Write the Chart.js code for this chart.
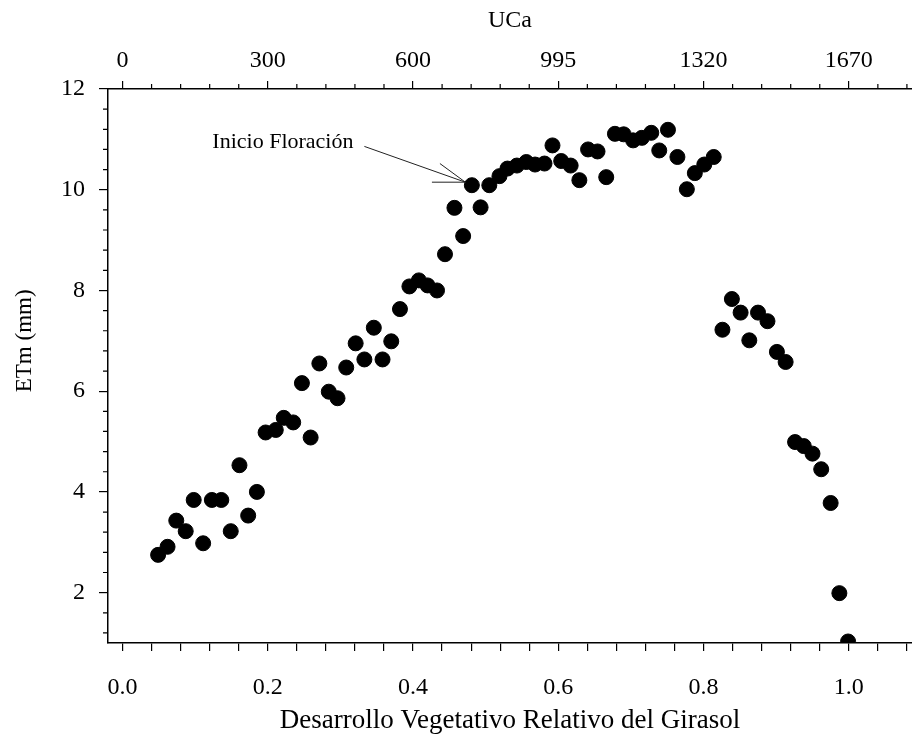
<!DOCTYPE html>
<html>
<head>
<meta charset="utf-8">
<title>ETm Girasol</title>
<script src="https://cdn.jsdelivr.net/npm/chart.js@4.4.1/dist/chart.umd.min.js"></script>
<style>
    html, body { margin: 0; padding: 0; background: #fff; }
    #wrap { width: 912px; height: 745px; }
</style>
</head>
<body>
<div id="wrap"><canvas id="chart-etm" width="912" height="745"></canvas></div>
<script>
// desarrollo vegetativo relativo (eje x)
const desarrollo = [
    0.049, 0.062, 0.074, 0.087, 0.098, 0.111, 0.123, 0.136, 0.149, 0.161,
    0.173, 0.185, 0.197, 0.211, 0.222, 0.235, 0.247, 0.259, 0.271, 0.284,
    0.296, 0.308, 0.321, 0.333, 0.346, 0.358, 0.370, 0.382, 0.395, 0.408,
    0.420, 0.433, 0.444, 0.457, 0.469, 0.481, 0.493, 0.505, 0.519, 0.530,
    0.543, 0.556, 0.568, 0.581, 0.592, 0.604, 0.617, 0.629, 0.641, 0.654,
    0.666, 0.678, 0.690, 0.703, 0.715, 0.728, 0.739, 0.751, 0.764, 0.777,
    0.788, 0.801, 0.814, 0.826, 0.839, 0.851, 0.863, 0.875, 0.888, 0.901,
    0.913, 0.926, 0.938, 0.950, 0.962, 0.975, 0.987, 0.999
];

// ETm en mm
const etm = [
    2.75, 2.91, 3.43, 3.22, 3.84, 2.98, 3.84, 3.84, 3.22, 4.53,
    3.53, 4.00, 5.18, 5.23, 5.47, 5.38, 6.16, 5.08, 6.55, 5.99,
    5.86, 6.47, 6.95, 6.63, 7.26, 6.63, 6.99, 7.63, 8.08, 8.20,
    8.10, 8.00, 8.72, 9.64, 9.08, 10.09, 9.65, 10.09, 10.27, 10.42,
    10.48, 10.55, 10.50, 10.52, 10.88, 10.57, 10.48, 10.19, 10.80, 10.76,
    10.25, 11.11, 11.10, 10.98, 11.03, 11.13, 10.78, 11.19, 10.65, 10.01,
    10.33, 10.50, 10.65, 7.22, 7.83, 7.56, 7.01, 7.56, 7.39, 6.78,
    6.58, 4.99, 4.91, 4.76, 4.45, 3.78, 1.99, 1.03
];

// etiquetas del eje superior (UCa) sobre 0.0, 0.2, ... 1.0
const ucaLabels = ['0', '300', '600', '995', '1320', '1670'];
const yLabels = [2, 4, 6, 8, 10, 12];

// flecha "Inicio Floración" (en unidades de los ejes)
const nota = {
    texto: 'Inicio Floración',
    textoX: 0.318, textoY: 10.94,
    desde: [0.333, 10.86],
    hasta: [0.472, 10.15],
    punta1: [0.437, 10.52],
    punta2: [0.426, 10.15]
};

const fuente = 'Liberation Serif, Times New Roman, serif';

function cerca(a, b) { return Math.abs(a - b) < 1e-6; }

// marcas cortas (sin etiqueta) del eje izquierdo y del superior
function marcasCortas(chart, scale, largo) {
    const ctx = chart.ctx;
    ctx.save();
    ctx.strokeStyle = '#000';
    ctx.lineWidth = 1.2;
    ctx.beginPath();
    scale.ticks.forEach(t => {
        if (t.label !== '') return;
        const p = scale.getPixelForValue(t.value);
        if (scale.axis === 'y') {
            ctx.moveTo(scale.right - largo, p);
            ctx.lineTo(scale.right, p);
        } else {
            ctx.moveTo(p, scale.bottom - largo);
            ctx.lineTo(p, scale.bottom);
        }
    });
    ctx.stroke();
    ctx.restore();
}

const anotacion = {
    id: 'anotacion',
    afterDatasetsDraw(chart) {
        const ctx = chart.ctx;
        const x = chart.scales.x;
        const y = chart.scales.y;
        const px = v => x.getPixelForValue(v);
        const py = v => y.getPixelForValue(v);

        marcasCortas(chart, chart.scales.y, 5);
        marcasCortas(chart, chart.scales.x2, 5);

        ctx.save();
        ctx.fillStyle = '#000';
        ctx.font = '22px ' + fuente;
        ctx.textAlign = 'right';
        ctx.textBaseline = 'middle';
        ctx.fillText(nota.texto, px(nota.textoX), py(nota.textoY));
        ctx.strokeStyle = '#222';
        ctx.lineWidth = 1;
        ctx.beginPath();
        ctx.moveTo(px(nota.desde[0]), py(nota.desde[1]));
        ctx.lineTo(px(nota.hasta[0]), py(nota.hasta[1]));
        ctx.moveTo(px(nota.punta1[0]), py(nota.punta1[1]));
        ctx.lineTo(px(nota.hasta[0]), py(nota.hasta[1]));
        ctx.moveTo(px(nota.punta2[0]), py(nota.punta2[1]));
        ctx.lineTo(px(nota.hasta[0]), py(nota.hasta[1]));
        ctx.stroke();

        // titulo del eje y
        ctx.translate(25, py(7.0));
        ctx.rotate(-Math.PI / 2);
        ctx.textAlign = 'center';
        ctx.font = '23px ' + fuente;
        ctx.fillText('ETm (mm)', 0, 0);
        ctx.restore();
    }
};

// marcas cada 0.04 en x y cada 0.4 en y
function marcasX(scale) {
    const t = [];
    for (let i = 0; i <= 27; i++) t.push({ value: Math.round(i * 4) / 100 });
    scale.ticks = t;
}
function marcasY(scale) {
    const t = [];
    for (let i = 0; i <= 27; i++) t.push({ value: Math.round((12 - i * 0.4) * 10) / 10 });
    scale.ticks = t;
}

const colorMarca = c => (c.tick && c.tick.label === '') ? 'rgba(0,0,0,0)' : '#000';

const ctx = document.getElementById('chart-etm').getContext('2d');
const chart = new Chart(ctx, {
    type: 'scatter',
    data: {
        datasets: [{
            label: 'ETm',
            data: desarrollo.map((d, i) => ({ x: d, y: etm[i] })),
            backgroundColor: '#000',
            borderColor: '#000',
            pointRadius: 7.5,
            pointHoverRadius: 7.5
        }]
    },
    options: {
        responsive: false,
        animation: false,
        layout: { padding: 0, autoPadding: false },
        plugins: {
            legend: { display: false },
            tooltip: { enabled: false }
        },
        scales: {
            x: {
                type: 'linear',
                position: 'bottom',
                min: -0.02,
                max: 1.087,
                afterBuildTicks: marcasX,
                afterFit: s => { s.height = 102; s.paddingLeft = 0; s.paddingRight = 0; },
                grid: { drawOnChartArea: false, tickLength: 8, color: '#000', lineWidth: 1.2 },
                border: { display: true, color: '#000', width: 1.5 },
                ticks: {
                    autoSkip: false,
                    maxRotation: 0,
                    padding: 22,
                    color: '#000',
                    font: { family: fuente, size: 24 },
                    callback: v => {
                        const k = v / 0.2;
                        return cerca(k, Math.round(k)) && v <= 1.0001 ? v.toFixed(1) : '';
                    }
                },
                title: {
                    display: true,
                    text: 'Desarrollo Vegetativo Relativo del Girasol',
                    color: '#000',
                    font: { family: fuente, size: 27 },
                    padding: { top: 0, bottom: 8 }
                }
            },
            x2: {
                type: 'linear',
                position: 'top',
                min: -0.02,
                max: 1.087,
                afterBuildTicks: marcasX,
                afterFit: s => { s.height = 89; s.paddingLeft = 0; s.paddingRight = 0; },
                grid: { drawOnChartArea: false, tickLength: 8, color: '#000', lineWidth: 1.2, tickColor: colorMarca },
                border: { display: true, color: '#000', width: 1.5 },
                ticks: {
                    autoSkip: false,
                    maxRotation: 0,
                    padding: 6,
                    color: '#000',
                    font: { family: fuente, size: 24 },
                    callback: v => {
                        const k = v / 0.2;
                        if (!cerca(k, Math.round(k)) || v > 1.0001) return '';
                        return ucaLabels[Math.round(k)];
                    }
                },
                title: {
                    display: true,
                    text: 'UCa',
                    color: '#000',
                    font: { family: fuente, size: 24 },
                    padding: { top: 6, bottom: 0 }
                }
            },
            y: {
                type: 'linear',
                min: 1,
                max: 12,
                afterBuildTicks: marcasY,
                afterFit: s => { s.width = 108; },
                grid: { drawOnChartArea: false, tickLength: 9, color: '#000', lineWidth: 1.2, tickColor: colorMarca },
                border: { display: true, color: '#000', width: 1.5 },
                ticks: {
                    autoSkip: false,
                    padding: 14,
                    color: '#000',
                    font: { family: fuente, size: 24 },
                    callback: v => yLabels.find(l => cerca(l, v)) !== undefined ? String(Math.round(v)) : ''
                },
                title: { display: false }
            }
        }
    },
    plugins: [anotacion]
});
</script>
</body>
</html>
